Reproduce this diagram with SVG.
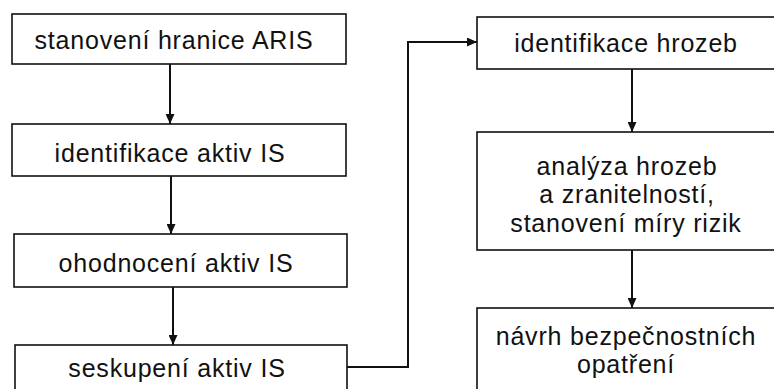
<svg xmlns="http://www.w3.org/2000/svg" width="774" height="389" viewBox="0 0 774 389">
<defs>
<style>
.box{fill:#fff;stroke:#111;stroke-width:1.6}
.t{font-family:"Liberation Sans",Arial,sans-serif;font-size:25px;letter-spacing:0.8px;fill:#111;text-anchor:middle}
.c{fill:none;stroke:#111;stroke-width:2}
</style>
<marker id="ah" markerUnits="userSpaceOnUse" markerWidth="10" markerHeight="9" refX="10" refY="4.5" orient="auto">
<path d="M0,0 L10,4.5 L0,9 z" fill="#111"/>
</marker>
</defs>
<rect width="774" height="389" fill="#fff"/>
<g id="connectors">
<path class="c" d="M170,64 V124" marker-end="url(#ah)"/>
<path class="c" d="M171,176 V234" marker-end="url(#ah)"/>
<path class="c" d="M173,287 V345" marker-end="url(#ah)"/>
<path class="c" d="M347,367 H408 V42 H477" marker-end="url(#ah)"/>
<path class="c" d="M632,69 V132" marker-end="url(#ah)"/>
<path class="c" d="M632,250 V308" marker-end="url(#ah)"/>
</g>
<g id="n1"><rect class="box" x="12" y="14" width="334" height="50"/><text class="t" x="174" y="49">stanovení hranice ARIS</text></g>
<g id="n2"><rect class="box" x="12" y="124" width="334" height="52"/><text class="t" x="170" y="162">identifikace aktiv IS</text></g>
<g id="n3"><rect class="box" x="14" y="234" width="333" height="53"/><text class="t" x="176" y="272">ohodnocení aktiv IS</text></g>
<g id="n4"><rect class="box" x="15" y="345" width="332" height="60"/><text class="t" x="177" y="377">seskupení aktiv IS</text></g>
<g id="n5"><rect class="box" x="477" y="17" width="320" height="52"/><text class="t" x="626" y="52">identifikace hrozeb</text></g>
<g id="n6"><rect class="box" x="477" y="132" width="320" height="118"/><text class="t" x="627" y="175">analýza hrozeb</text><text class="t" x="627" y="203">a zranitelností,</text><text class="t" x="626" y="232">stanovení míry rizik</text></g>
<g id="n7"><rect class="box" x="477" y="308" width="320" height="100"/><text class="t" x="626" y="345">návrh bezpečnostních</text><text class="t" x="626" y="373">opatření</text></g>
</svg>
